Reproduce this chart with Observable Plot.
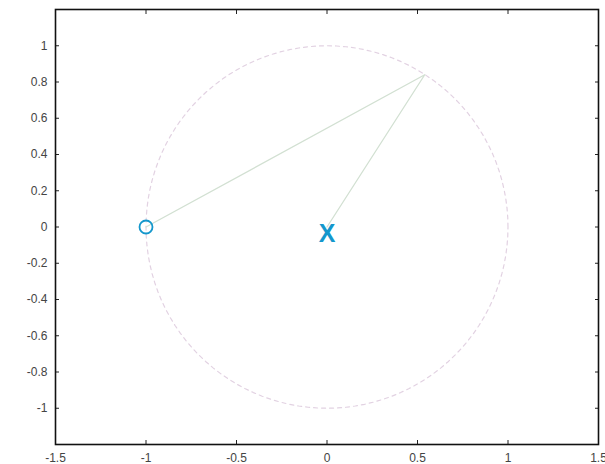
<!DOCTYPE html>
<html>
<head>
<meta charset="utf-8">
<script src="https://cdn.jsdelivr.net/npm/d3@7"></script>
<script src="https://cdn.jsdelivr.net/npm/@observablehq/plot@0.6"></script>
<style>
  html, body { margin: 0; padding: 0; background: #fff; }
</style>
</head>
<body>
<div id="chart"></div>
<script>
// Data
const xTicks = [-1.5, -1, -0.5, 0, 0.5, 1, 1.5];
const yTicks = [-1, -0.8, -0.6, -0.4, -0.2, 0, 0.2, 0.4, 0.6, 0.8, 1];
const circleRadius = 1;
const startPoint = [{x: -1, y: 0}];           // "o" marker
const centerPoint = [{x: 0, y: 0, label: "X"}]; // "x" marker
const pathPoints = [
  {x: -1, y: 0},
  {x: 0.54, y: 0.84},
  {x: 0, y: 0}
];
// unit circle outline
const circlePoints = d3.range(0, 361, 3).map(a => ({
  x: circleRadius * Math.cos(a * Math.PI / 180),
  y: circleRadius * Math.sin(a * Math.PI / 180)
}));

const blue = "#1497cc";
const fmt = d => String(d);

const chart = Plot.plot({
  width: 605,
  height: 464,
  marginLeft: 55,
  marginRight: 7,
  marginTop: 9,
  marginBottom: 20,
  style: {fontFamily: "Liberation Sans, Arial, sans-serif", fontSize: "12px", color: "#444", background: "#fff"},
  x: {domain: [-1.5, 1.5]},
  y: {domain: [-1.2, 1.2]},
  marks: [
    Plot.line(circlePoints, {x: "x", y: "y", stroke: "#e2d2e2", strokeWidth: 1.2, strokeDasharray: "4,4"}),
    Plot.line(pathPoints, {x: "x", y: "y", stroke: "#d2e0d2", strokeWidth: 1.3}),
    Plot.dot(startPoint, {x: "x", y: "y", r: 6.5, stroke: blue, strokeWidth: 1.8, fill: "none"}),
    Plot.text(centerPoint, {x: "x", y: "y", text: "label", fill: blue, fontWeight: "bold", fontSize: 25, dy: 7, fontFamily: "Liberation Sans, Arial, sans-serif"}),
    Plot.axisX({anchor: "bottom", ticks: xTicks, tickFormat: fmt, tickSize: -4, tickPadding: 13, label: null, stroke: "#222"}),
    Plot.axisX({anchor: "top", ticks: xTicks, tickFormat: () => "", tickSize: -4, label: null, stroke: "#222"}),
    Plot.axisY({anchor: "left", ticks: yTicks, tickFormat: fmt, tickSize: -4, tickPadding: 12, label: null, stroke: "#222"}),
    Plot.axisY({anchor: "right", ticks: yTicks, tickFormat: () => "", tickSize: -4, label: null, stroke: "#222"}),
    Plot.frame({stroke: "#111", strokeWidth: 1.6})
  ]
});
document.getElementById("chart").appendChild(chart);
</script>
</body>
</html>
